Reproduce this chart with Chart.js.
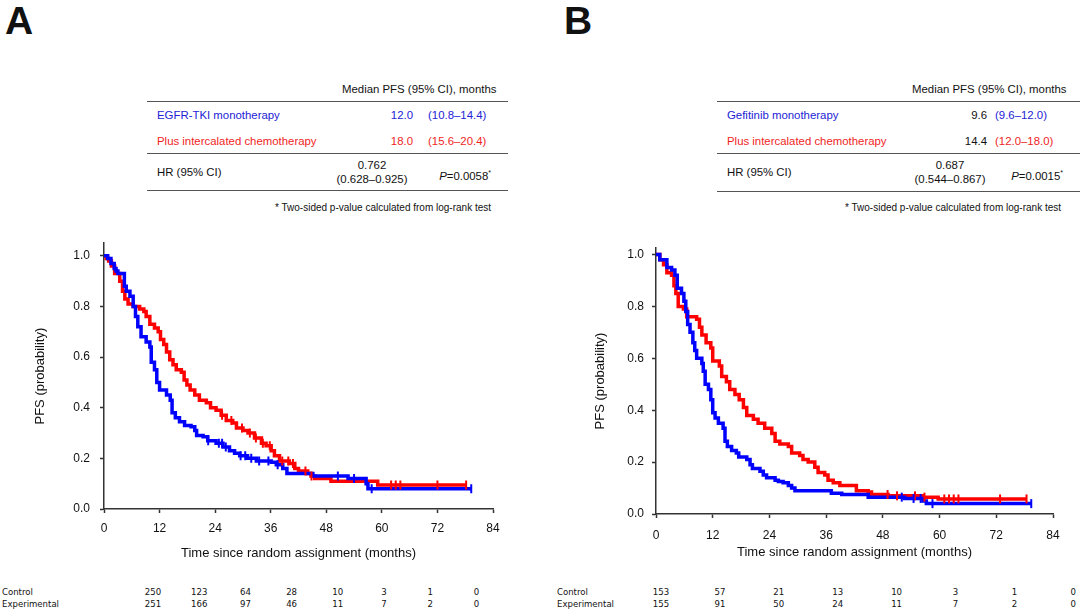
<!DOCTYPE html>
<html>
<head>
<meta charset="utf-8">
<script src="https://cdn.jsdelivr.net/npm/chart.js@4.4.1/dist/chart.umd.min.js"></script>
<style>
  html, body { margin: 0; padding: 0; background: #fff; }
  #page { position: relative; width: 1080px; height: 614px; overflow: hidden; font-family: "Liberation Sans", Arial, sans-serif; color: #111; }
  .abs { position: absolute; white-space: nowrap; }
  .letter { font-weight: bold; font-size: 39px; line-height: 1; }
  .t { font-size: 11.4px; line-height: 13px; }
  .rule { position: absolute; height: 0; border-top: 1.5px solid #555; }
  .blue { color: #2323d6; }
  .red { color: #f01e1e; }
  .risk { font-family: "Liberation Sans Narrow", "DejaVu Sans Condensed", sans-serif; font-size: 9.5px; line-height: 11px; }
  canvas { position: absolute; }
</style>
</head>
<body>
<div id="page">
  <div class="abs letter" style="left:5px;top:1px;">A</div>
  <div class="abs letter" style="left:564px;top:1px;">B</div>

  <!-- table A -->
  <div class="abs t" style="left:342px;top:83px;">Median PFS (95% CI), months</div>
  <div class="rule" style="left:147px;top:101px;width:361px;"></div>
  <div class="abs t blue" style="left:157px;top:109px;">EGFR-TKI monotherapy</div>
  <div class="abs t blue" style="left:373px;top:109px;width:40px;text-align:right;">12.0</div>
  <div class="abs t blue" style="left:428px;top:109px;">(10.8–14.4)</div>
  <div class="abs t red" style="left:157px;top:135px;">Plus intercalated chemotherapy</div>
  <div class="abs t red" style="left:373px;top:135px;width:40px;text-align:right;">18.0</div>
  <div class="abs t red" style="left:428px;top:135px;">(15.6–20.4)</div>
  <div class="rule" style="left:147px;top:153px;width:361px;"></div>
  <div class="abs t" style="left:157px;top:166px;">HR (95% CI)</div>
  <div class="abs t" style="left:312px;top:159px;width:120px;text-align:center;">0.762</div>
  <div class="abs t" style="left:312px;top:173px;width:120px;text-align:center;">(0.628–0.925)</div>
  <div class="abs t" style="left:400px;top:166px;width:91px;text-align:right;"><i>P</i>=0.0058<sup style="font-size:7px;">*</sup></div>
  <div class="rule" style="left:147px;top:190px;width:361px;"></div>
  <div class="abs t" style="left:275px;top:201px;font-size:10px;">* Two-sided p-value calculated from log-rank test</div>

  <!-- table B -->
  <div class="abs t" style="left:912px;top:83px;">Median PFS (95% CI), months</div>
  <div class="rule" style="left:717px;top:101px;width:363px;"></div>
  <div class="abs t blue" style="left:727px;top:109px;">Gefitinib monotherapy</div>
  <div class="abs t" style="left:947px;top:109px;width:40px;text-align:right;">9.6</div>
  <div class="abs t blue" style="left:995px;top:109px;">(9.6–12.0)</div>
  <div class="abs t red" style="left:727px;top:135px;">Plus intercalated chemotherapy</div>
  <div class="abs t" style="left:947px;top:135px;width:40px;text-align:right;">14.4</div>
  <div class="abs t red" style="left:995px;top:135px;">(12.0–18.0)</div>
  <div class="rule" style="left:717px;top:153px;width:363px;"></div>
  <div class="abs t" style="left:727px;top:166px;">HR (95% CI)</div>
  <div class="abs t" style="left:890px;top:159px;width:120px;text-align:center;">0.687</div>
  <div class="abs t" style="left:890px;top:173px;width:120px;text-align:center;">(0.544–0.867)</div>
  <div class="abs t" style="left:972px;top:166px;width:91px;text-align:right;"><i>P</i>=0.0015<sup style="font-size:7px;">*</sup></div>
  <div class="rule" style="left:717px;top:191px;width:363px;"></div>
  <div class="abs t" style="left:845px;top:201px;font-size:10px;">* Two-sided p-value calculated from log-rank test</div>

  <canvas id="chartA" width="530" height="343" style="left:0px;top:226px;"></canvas>
  <canvas id="chartB" width="540" height="344" style="left:540px;top:230px;"></canvas>

  <div id="riskRows"></div>
</div>

<script>
// ----- data -----
const xTicks = [0, 12, 24, 36, 48, 60, 72, 84];
const yTicks = [0, 0.2, 0.4, 0.6, 0.8, 1.0];

// Panel A: EGFR-TKI monotherapy (Control, blue) vs plus chemo (Experimental, red)
const tA_ctrl = [0,0.8,1.5,2.2,2.6,3.0,4.4,4.8,5.6,6.3,6.8,7.3,8.0,9.1,9.9,10.2,10.9,11.4,12.0,13.5,14.3,14.7,15.4,16.3,17.4,18.8,19.6,20.0,21.4,22.4,24.2,25.7,27.1,28.2,29.3,31.0,32.9,36.1,37.2,38.6,39.5,45.1,52.7,56.6,57.0,79.3];
const sA_ctrl = [1.0,0.99,0.97,0.95,0.94,0.93,0.88,0.86,0.84,0.80,0.76,0.72,0.68,0.66,0.64,0.58,0.55,0.50,0.47,0.45,0.43,0.38,0.36,0.345,0.33,0.325,0.31,0.29,0.285,0.27,0.26,0.245,0.23,0.22,0.21,0.20,0.19,0.185,0.175,0.16,0.14,0.13,0.12,0.10,0.08,0.08];
const tA_exp = [0,0.5,1.0,1.6,2.3,3.4,4.0,4.5,5.2,6.3,7.7,8.6,9.1,9.9,10.9,11.7,12.2,12.9,13.5,14.2,14.9,15.6,16.7,17.3,17.9,18.6,19.6,20.6,22.1,23.0,24.2,25.3,26.4,27.8,28.6,30.0,31.1,32.5,34.0,35.0,36.1,36.8,37.9,40.0,41.2,42.0,44.0,44.7,45.5,49.0,59.1,78.2];
const sA_exp = [1.0,0.99,0.98,0.96,0.93,0.90,0.86,0.83,0.81,0.80,0.79,0.78,0.76,0.73,0.715,0.70,0.67,0.65,0.62,0.59,0.57,0.55,0.54,0.51,0.49,0.47,0.45,0.43,0.42,0.40,0.39,0.37,0.35,0.34,0.32,0.31,0.30,0.28,0.26,0.25,0.23,0.21,0.19,0.18,0.16,0.15,0.14,0.13,0.12,0.11,0.095,0.095];
const censA_ctrl = [22.5,24.8,25.5,26.3,29.5,30.5,31.8,33.5,35.5,37.5,50.5,54.0,57.8,79.3];
const censA_exp = [25.5,27.5,29.8,31.5,32.8,34.3,35.8,38.5,39.8,40.8,43.5,44.8,62.0,63.0,64.0,72.0,78.2];

// Panel B: Gefitinib monotherapy (Control, blue) vs plus chemo (Experimental, red)
const tB_ctrl = [0,0.8,2.3,3.3,4.0,4.5,5.4,5.9,6.3,6.7,7.2,7.8,8.2,8.6,9.7,10.0,10.4,11.1,11.6,12.0,12.5,13.2,14.2,14.6,15.1,16.0,17.0,17.5,19.2,19.9,20.4,22.0,22.7,23.4,25.2,25.9,26.9,28.0,28.7,29.4,37.1,39.3,44.9,52.6,56.5,57.2,79.4];
const sB_ctrl = [1.0,0.98,0.95,0.94,0.92,0.87,0.85,0.82,0.78,0.73,0.70,0.66,0.63,0.60,0.58,0.55,0.50,0.48,0.44,0.39,0.37,0.35,0.33,0.28,0.26,0.245,0.235,0.22,0.21,0.19,0.175,0.165,0.15,0.14,0.13,0.125,0.12,0.11,0.10,0.09,0.08,0.075,0.065,0.06,0.05,0.04,0.04];
const tB_exp = [0,0.8,1.6,2.3,3.3,3.8,4.2,4.7,5.8,6.5,8.6,9.2,9.7,10.6,11.6,12.0,13.4,13.9,14.9,15.6,16.7,17.6,18.5,19.2,20.6,21.6,23.0,24.5,25.2,26.2,28.0,28.7,30.4,31.1,32.2,33.6,34.3,35.7,36.4,37.5,38.9,42.4,44.9,45.6,49.1,56.5,59.7,78.4];
const sB_exp = [1.0,0.98,0.96,0.93,0.92,0.88,0.85,0.80,0.79,0.76,0.75,0.72,0.69,0.66,0.64,0.59,0.57,0.53,0.51,0.48,0.46,0.44,0.41,0.38,0.365,0.35,0.33,0.31,0.28,0.27,0.26,0.235,0.225,0.21,0.20,0.18,0.16,0.15,0.13,0.12,0.11,0.09,0.085,0.075,0.07,0.065,0.058,0.058];
const censB_ctrl = [52.0,54.5,56.0,58.5,79.4];
const censB_exp = [49.0,51.0,54.8,56.8,61.0,62.0,63.0,64.0,72.8,78.4];

// numbers at risk
const riskLabels = ["Control", "Experimental"];
const riskA_ctrl = [250, 123, 64, 28, 10, 3, 1, 0];
const riskA_exp = [251, 166, 97, 46, 11, 7, 2, 0];
const riskB_ctrl = [153, 57, 21, 13, 10, 3, 1, 0];
const riskB_exp = [155, 91, 50, 24, 11, 7, 2, 0];

const BLUE = "#0000ff";
const RED = "#ff0000";
const FONT = "'Liberation Sans', Arial, sans-serif";

function curve(ts, ss) {
  return ts.map((t, i) => ({ x: t, y: ss[i] }));
}

// survival value at time t (step function)
function km(t, ts, ss) {
  let v = ss[0];
  for (let i = 0; i < ts.length; i++) {
    if (ts[i] <= t) v = ss[i];
  }
  return v;
}

function censorPoints(cs, ts, ss) {
  return cs.map(t => ({ x: t, y: km(t, ts, ss) }));
}

function makePanel(id, p) {
  const ctx = document.getElementById(id).getContext("2d");
  const stepLine = (data, color) => ({
    type: "line", data: data, borderColor: color, borderWidth: 3.5,
    stepped: true, pointRadius: 0, fill: false, order: 2
  });
  const ticks = (data, color) => ({
    type: "scatter", data: data, borderColor: color, backgroundColor: color,
    pointStyle: "line", rotation: 90, radius: 4.5, borderWidth: 2, showLine: false, order: 1
  });
  new Chart(ctx, {
    type: "line",
    data: {
      datasets: [
        stepLine(curve(p.tc, p.sc), BLUE),
        stepLine(curve(p.te, p.se), RED),
        ticks(censorPoints(p.cc, p.tc, p.sc), BLUE),
        ticks(censorPoints(p.ce, p.te, p.se), RED)
      ]
    },
    options: {
      responsive: false,
      animation: false,
      layout: { padding: { left: p.padLeft, top: p.padTop, right: p.padRight, bottom: 0 } },
      plugins: { legend: { display: false }, tooltip: { enabled: false } },
      scales: {
        x: {
          type: "linear", min: 0, max: 84,
          afterBuildTicks: s => { s.ticks = xTicks.map(v => ({ value: v })); },
          ticks: { color: "#111", font: { family: FONT, size: 12 }, padding: p.xPad, maxRotation: 0 },
          grid: { drawOnChartArea: false, drawTicks: true, tickLength: 4, tickColor: "#333", tickWidth: 1.5 },
          border: { color: "#333", width: 1.5 },
          title: { display: true, text: "Time since random assignment (months)", color: "#111",
                   font: { family: FONT, size: 13 }, padding: { top: 0, bottom: p.xTitleBottom } },
          afterFit: s => { s.height = 60; }
        },
        y: {
          min: 0, max: p.yMax,
          afterBuildTicks: s => { s.ticks = yTicks.map(v => ({ value: v })); },
          ticks: { color: "#111", font: { family: FONT, size: 12 }, padding: p.yPad,
                   callback: v => Number(v).toFixed(1) },
          grid: { drawOnChartArea: false, drawTicks: true, tickLength: 4, tickColor: "#333", tickWidth: 1.5 },
          border: { color: "#333", width: 1.5 },
          title: { display: true, text: "PFS (probability)", color: "#111",
                   font: { family: FONT, size: 13 }, padding: 0 },
          afterFit: s => { s.width = p.yWidth; }
        }
      }
    }
  });
}

makePanel("chartA", {
  tc: tA_ctrl, sc: sA_ctrl, te: tA_exp, se: sA_exp, cc: censA_ctrl, ce: censA_exp,
  padLeft: 33, padTop: 16, padRight: 37, yWidth: 71, yMax: 1.05,
  xPad: 8, xTitleBottom: 8, yPad: 10
});
makePanel("chartB", {
  tc: tB_ctrl, sc: sB_ctrl, te: tB_exp, se: sB_exp, cc: censB_ctrl, ce: censB_exp,
  padLeft: 53, padTop: 18, padRight: 27, yWidth: 63, yMax: 1.025,
  xPad: 10, xTitleBottom: 14, yPad: 8
});

// numbers at risk rows
function riskTable(labelX, firstX, step, rows) {
  const host = document.getElementById("riskRows");
  rows.forEach((vals, r) => {
    const top = 586 + r * 12;
    const lab = document.createElement("div");
    lab.className = "abs risk";
    lab.style.left = labelX + "px";
    lab.style.top = top + "px";
    lab.textContent = riskLabels[r];
    host.appendChild(lab);
    vals.forEach((v, i) => {
      const d = document.createElement("div");
      d.className = "abs risk";
      d.style.left = (firstX + i * step - 15) + "px";
      d.style.width = "30px";
      d.style.textAlign = "center";
      d.style.top = top + "px";
      d.textContent = v;
      host.appendChild(d);
    });
  });
}
riskTable(2, 153, 46.2, [riskA_ctrl, riskA_exp]);
riskTable(557, 661, 58.9, [riskB_ctrl, riskB_exp]);
</script>
</body>
</html>
